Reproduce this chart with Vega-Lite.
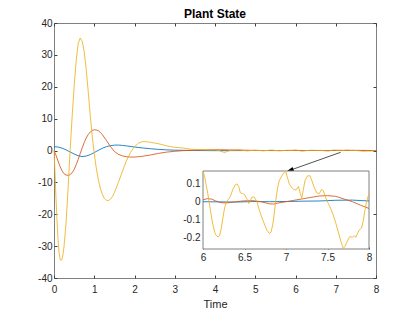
{
"$schema":"https://vega.github.io/schema/vega-lite/v6.json",
"width":322,"height":255,"autosize":"none",
"padding":{"left":54,"top":23,"right":39,"bottom":34},
"background":"white",
"title":{"text":"Plant State","fontSize":12,"fontWeight":"bold","font":"Liberation Sans","color":"#000000","offset":-2.5,"anchor":"middle"},
"config":{"view":{"stroke":"#808080","strokeWidth":1},
 "axis":{"domain":false,"grid":false,"labelFlush":false,"tickColor":"#404040","tickSize":-3,"labelFont":"Liberation Sans","labelFontSize":10,"labelColor":"#262626","titleFont":"Liberation Sans","titleFontWeight":"normal","titleFontSize":11,"titleColor":"#262626","labelPadding":5,"zindex":1}},
"datasets":{
"d":[
{"t":0,"s":"a","v":1.2},{"t":0.1,"s":"a","v":1.1},{"t":0.2,"s":"a","v":0.75},{"t":0.3,"s":"a","v":0.2},{"t":0.4,"s":"a","v":-0.45},{"t":0.5,"s":"a","v":-1.1},{"t":0.6,"s":"a","v":-1.65},{"t":0.7,"s":"a","v":-1.9},{"t":0.8,"s":"a","v":-1.75},{"t":0.9,"s":"a","v":-1.3},{"t":1.0,"s":"a","v":-0.65},{"t":1.1,"s":"a","v":0.05},{"t":1.2,"s":"a","v":0.7},{"t":1.3,"s":"a","v":1.2},{"t":1.4,"s":"a","v":1.5},{"t":1.5,"s":"a","v":1.68},{"t":1.6,"s":"a","v":1.7},{"t":1.7,"s":"a","v":1.6},{"t":1.8,"s":"a","v":1.45},{"t":2.0,"s":"a","v":1.1},{"t":2.2,"s":"a","v":0.8},{"t":2.4,"s":"a","v":0.55},{"t":2.6,"s":"a","v":0.35},{"t":2.8,"s":"a","v":0.2},{"t":3.0,"s":"a","v":0.1},{"t":3.5,"s":"a","v":0.0},{"t":4.0,"s":"a","v":-0.05},{"t":5.0,"s":"a","v":0.0},{"t":5.5,"s":"a","v":0.0},
{"t":6.0,"s":"a","v":0.0},{"t":6.2,"s":"a","v":-0.001},{"t":6.4,"s":"a","v":-0.002},{"t":6.6,"s":"a","v":0.001},{"t":6.8,"s":"a","v":0.0},{"t":7.0,"s":"a","v":0.001},{"t":7.2,"s":"a","v":0.003},{"t":7.4,"s":"a","v":0.004},{"t":7.6,"s":"a","v":0.008},{"t":7.8,"s":"a","v":0.009},{"t":8.0,"s":"a","v":0.004},
{"t":0,"s":"b","v":0},{"t":0.05,"s":"b","v":-1.5},{"t":0.1,"s":"b","v":-3.3},{"t":0.15,"s":"b","v":-5},{"t":0.2,"s":"b","v":-6.4},{"t":0.25,"s":"b","v":-7.3},{"t":0.3,"s":"b","v":-7.7},{"t":0.37,"s":"b","v":-7.8},{"t":0.45,"s":"b","v":-7},{"t":0.5,"s":"b","v":-6},{"t":0.55,"s":"b","v":-4.5},{"t":0.6,"s":"b","v":-2.8},{"t":0.65,"s":"b","v":-1},{"t":0.7,"s":"b","v":0.8},{"t":0.75,"s":"b","v":2.5},{"t":0.8,"s":"b","v":3.9},{"t":0.85,"s":"b","v":5},{"t":0.9,"s":"b","v":5.8},{"t":0.95,"s":"b","v":6.3},{"t":1.0,"s":"b","v":6.5},{"t":1.05,"s":"b","v":6.45},{"t":1.1,"s":"b","v":6.2},{"t":1.15,"s":"b","v":5.7},{"t":1.2,"s":"b","v":5},{"t":1.3,"s":"b","v":3.2},{"t":1.4,"s":"b","v":1.3},{"t":1.5,"s":"b","v":-0.3},{"t":1.6,"s":"b","v":-1.2},{"t":1.7,"s":"b","v":-1.7},{"t":1.8,"s":"b","v":-1.95},{"t":1.9,"s":"b","v":-2.05},{"t":2.0,"s":"b","v":-2.05},{"t":2.1,"s":"b","v":-1.95},{"t":2.2,"s":"b","v":-1.8},{"t":2.4,"s":"b","v":-1.4},{"t":2.6,"s":"b","v":-0.9},{"t":2.8,"s":"b","v":-0.5},{"t":3.0,"s":"b","v":-0.25},{"t":3.2,"s":"b","v":-0.05},{"t":3.5,"s":"b","v":0.1},{"t":4.0,"s":"b","v":0.25},{"t":4.5,"s":"b","v":0.15},{"t":5.0,"s":"b","v":0.02},{"t":5.5,"s":"b","v":-0.03},
{"t":6.0,"s":"b","v":0.01},{"t":6.05,"s":"b","v":0.017},{"t":6.1,"s":"b","v":0.015},{"t":6.15,"s":"b","v":0.005},{"t":6.2,"s":"b","v":-0.003},{"t":6.25,"s":"b","v":-0.007},{"t":6.3,"s":"b","v":-0.006},{"t":6.4,"s":"b","v":0.0},{"t":6.5,"s":"b","v":0.005},{"t":6.6,"s":"b","v":0.006},{"t":6.7,"s":"b","v":0.0},{"t":6.8,"s":"b","v":-0.012},{"t":6.85,"s":"b","v":-0.013},{"t":6.9,"s":"b","v":-0.008},{"t":7.0,"s":"b","v":0.0},{"t":7.1,"s":"b","v":0.008},{"t":7.2,"s":"b","v":0.016},{"t":7.3,"s":"b","v":0.024},{"t":7.4,"s":"b","v":0.032},{"t":7.5,"s":"b","v":0.034},{"t":7.6,"s":"b","v":0.03},{"t":7.7,"s":"b","v":0.015},{"t":7.8,"s":"b","v":0.0},{"t":7.9,"s":"b","v":-0.02},{"t":8.0,"s":"b","v":-0.038},
{"t":0,"s":"c","v":0},{"t":0.025,"s":"c","v":-7},{"t":0.05,"s":"c","v":-15},{"t":0.075,"s":"c","v":-22},{"t":0.1,"s":"c","v":-28},{"t":0.125,"s":"c","v":-32},{"t":0.15,"s":"c","v":-34},{"t":0.175,"s":"c","v":-34.5},{"t":0.2,"s":"c","v":-34},{"t":0.225,"s":"c","v":-32.5},{"t":0.25,"s":"c","v":-30},{"t":0.3,"s":"c","v":-22.5},{"t":0.35,"s":"c","v":-12},{"t":0.4,"s":"c","v":0},{"t":0.45,"s":"c","v":10.5},{"t":0.5,"s":"c","v":20},{"t":0.55,"s":"c","v":28},{"t":0.6,"s":"c","v":33.5},{"t":0.65,"s":"c","v":35.3},{"t":0.7,"s":"c","v":34.3},{"t":0.75,"s":"c","v":31},{"t":0.8,"s":"c","v":25.5},{"t":0.85,"s":"c","v":18.5},{"t":0.9,"s":"c","v":11},{"t":0.95,"s":"c","v":4.5},{"t":1.0,"s":"c","v":-1},{"t":1.05,"s":"c","v":-5.5},{"t":1.1,"s":"c","v":-9},{"t":1.15,"s":"c","v":-11.8},{"t":1.2,"s":"c","v":-13.7},{"t":1.25,"s":"c","v":-15},{"t":1.3,"s":"c","v":-15.6},{"t":1.35,"s":"c","v":-15.7},{"t":1.4,"s":"c","v":-15.3},{"t":1.45,"s":"c","v":-14.5},{"t":1.5,"s":"c","v":-13.2},{"t":1.6,"s":"c","v":-10},{"t":1.7,"s":"c","v":-6.5},{"t":1.8,"s":"c","v":-3.2},{"t":1.9,"s":"c","v":-0.6},{"t":2.0,"s":"c","v":1.2},{"t":2.1,"s":"c","v":2.3},{"t":2.2,"s":"c","v":2.8},{"t":2.3,"s":"c","v":2.75},{"t":2.4,"s":"c","v":2.55},{"t":2.5,"s":"c","v":2.35},{"t":2.6,"s":"c","v":2.1},{"t":2.7,"s":"c","v":1.8},{"t":2.8,"s":"c","v":1.45},{"t":2.9,"s":"c","v":1.2},{"t":3.0,"s":"c","v":1.0},{"t":3.1,"s":"c","v":0.9},{"t":3.2,"s":"c","v":0.8},{"t":3.3,"s":"c","v":0.6},{"t":3.4,"s":"c","v":0.4},{"t":3.6,"s":"c","v":0.3},{"t":3.8,"s":"c","v":0.2},{"t":4.0,"s":"c","v":0.2},{"t":4.1,"s":"c","v":0.0},{"t":4.2,"s":"c","v":-0.5},{"t":4.25,"s":"c","v":-0.6},{"t":4.3,"s":"c","v":-0.3},{"t":4.4,"s":"c","v":0.1},{"t":4.6,"s":"c","v":0.2},{"t":4.8,"s":"c","v":-0.1},{"t":5.0,"s":"c","v":0.1},{"t":5.2,"s":"c","v":-0.1},{"t":5.4,"s":"c","v":0.15},{"t":5.6,"s":"c","v":-0.1},{"t":5.8,"s":"c","v":0.1},{"t":5.9,"s":"c","v":0.05},
{"t":6.0,"s":"c","v":0.17},{"t":6.02,"s":"c","v":0.14},{"t":6.04,"s":"c","v":0.09},{"t":6.06,"s":"c","v":0.04},{"t":6.08,"s":"c","v":-0.02},{"t":6.1,"s":"c","v":-0.08},{"t":6.12,"s":"c","v":-0.13},{"t":6.14,"s":"c","v":-0.17},{"t":6.16,"s":"c","v":-0.19},{"t":6.18,"s":"c","v":-0.197},{"t":6.2,"s":"c","v":-0.19},{"t":6.22,"s":"c","v":-0.15},{"t":6.24,"s":"c","v":-0.09},{"t":6.26,"s":"c","v":-0.035},{"t":6.28,"s":"c","v":-0.005},{"t":6.3,"s":"c","v":0.01},{"t":6.33,"s":"c","v":0.03},{"t":6.36,"s":"c","v":0.07},{"t":6.39,"s":"c","v":0.095},{"t":6.41,"s":"c","v":0.1},{"t":6.43,"s":"c","v":0.085},{"t":6.45,"s":"c","v":0.05},{"t":6.48,"s":"c","v":0.045},{"t":6.5,"s":"c","v":0.04},{"t":6.53,"s":"c","v":0.015},{"t":6.55,"s":"c","v":-0.01},{"t":6.57,"s":"c","v":0.005},{"t":6.59,"s":"c","v":0.026},{"t":6.62,"s":"c","v":0.025},{"t":6.65,"s":"c","v":0.0},{"t":6.68,"s":"c","v":-0.05},{"t":6.71,"s":"c","v":-0.09},{"t":6.74,"s":"c","v":-0.125},{"t":6.77,"s":"c","v":-0.16},{"t":6.8,"s":"c","v":-0.178},{"t":6.82,"s":"c","v":-0.17},{"t":6.84,"s":"c","v":-0.13},{"t":6.86,"s":"c","v":-0.06},{"t":6.88,"s":"c","v":0.02},{"t":6.9,"s":"c","v":0.08},{"t":6.92,"s":"c","v":0.12},{"t":6.95,"s":"c","v":0.145},{"t":6.97,"s":"c","v":0.16},{"t":6.99,"s":"c","v":0.168},{"t":7.0,"s":"c","v":0.165},{"t":7.02,"s":"c","v":0.13},{"t":7.04,"s":"c","v":0.1},{"t":7.06,"s":"c","v":0.085},{"t":7.09,"s":"c","v":0.07},{"t":7.12,"s":"c","v":0.065},{"t":7.15,"s":"c","v":0.085},{"t":7.17,"s":"c","v":0.05},{"t":7.19,"s":"c","v":0.02},{"t":7.21,"s":"c","v":0.07},{"t":7.23,"s":"c","v":0.12},{"t":7.26,"s":"c","v":0.145},{"t":7.29,"s":"c","v":0.145},{"t":7.31,"s":"c","v":0.12},{"t":7.34,"s":"c","v":0.08},{"t":7.37,"s":"c","v":0.05},{"t":7.4,"s":"c","v":0.045},{"t":7.43,"s":"c","v":0.07},{"t":7.45,"s":"c","v":0.06},{"t":7.48,"s":"c","v":0.02},{"t":7.51,"s":"c","v":-0.01},{"t":7.54,"s":"c","v":-0.04},{"t":7.57,"s":"c","v":-0.075},{"t":7.6,"s":"c","v":-0.12},{"t":7.63,"s":"c","v":-0.17},{"t":7.66,"s":"c","v":-0.22},{"t":7.69,"s":"c","v":-0.262},{"t":7.71,"s":"c","v":-0.25},{"t":7.73,"s":"c","v":-0.23},{"t":7.75,"s":"c","v":-0.21},{"t":7.77,"s":"c","v":-0.195},{"t":7.8,"s":"c","v":-0.2},{"t":7.82,"s":"c","v":-0.19},{"t":7.84,"s":"c","v":-0.2},{"t":7.86,"s":"c","v":-0.18},{"t":7.88,"s":"c","v":-0.16},{"t":7.91,"s":"c","v":-0.148},{"t":7.93,"s":"c","v":-0.11},{"t":7.95,"s":"c","v":-0.05},{"t":7.97,"s":"c","v":0.0},{"t":7.99,"s":"c","v":0.03},{"t":8.0,"s":"c","v":0.045}
],
"arrow":[{"x1":7.123,"y1":-0.56,"x2":5.856,"y2":-6.24}],
"box":[{"a":6,"b":8,"c":-0.265,"e":0.172}]
},
"resolve":{"scale":{"x":"independent","y":"independent"},"axis":{"x":"independent","y":"independent"}},
"layer":[
 {"data":{"name":"d"},"mark":{"type":"line","strokeWidth":1,"opacity":0.85},
  "encoding":{
   "x":{"field":"t","type":"quantitative","scale":{"domain":[0,8],"nice":false,"zero":false},"axis":{"orient":"bottom","values":[0,1,2,3,4,5,6,7,8],"title":"Time","labelExpr":"''+datum.value","labelPadding":9,"titlePadding":4}},
   "y":{"field":"v","type":"quantitative","scale":{"domain":[-40,40],"nice":false,"zero":false},"axis":{"orient":"left","values":[-40,-30,-20,-10,0,10,20,30,40],"title":null,"labelExpr":"''+datum.value"}},
   "color":{"field":"s","type":"nominal","scale":{"domain":["a","b","c"],"range":["#0072BD","#D95319","#EDB120"]},"legend":null}}},
 {"data":{"name":"arrow"},"layer":[
  {"mark":{"type":"rule","color":"#262626","strokeWidth":0.8},
   "encoding":{
    "x":{"field":"x1","type":"quantitative","scale":{"domain":[0,8],"nice":false,"zero":false},"axis":{"orient":"top","values":[0,1,2,3,4,5,6,7,8],"labels":false,"title":null}},
    "y":{"field":"y1","type":"quantitative","scale":{"domain":[-40,40],"nice":false,"zero":false},"axis":{"orient":"right","values":[-40,-30,-20,-10,0,10,20,30,40],"labels":false,"title":null}},
    "x2":{"field":"x2"},"y2":{"field":"y2"}}},
  {"mark":{"type":"point","shape":"M0,-1L0.6,1L-0.6,1Z","filled":true,"color":"#000000","opacity":1,"size":60,"angle":250.5},
   "encoding":{"x":{"field":"x2","type":"quantitative"},"y":{"field":"y2","type":"quantitative"}}}
 ]},
 {"layer":[
  {"data":{"name":"box"},"mark":{"type":"rect","fill":"white","stroke":"#808080","strokeWidth":1},
   "encoding":{
    "x":{"field":"a","type":"quantitative","scale":{"domain":[6,8],"range":[149,315],"nice":false,"zero":false},"axis":{"orient":"bottom","offset":-29,"values":[6,6.5,7,7.5,8],"title":null,"labelExpr":"''+datum.value","tickSize":-2}},
    "x2":{"field":"b"},
    "y":{"field":"c","type":"quantitative","scale":{"domain":[-0.265,0.172],"range":[226,148],"nice":false,"zero":false},"axis":{"orient":"left","offset":-149,"values":[-0.2,-0.1,0,0.1],"title":null,"labelExpr":"''+datum.value","tickSize":-2}},
    "y2":{"field":"e"}}},
  {"data":{"name":"d"},"transform":[{"filter":"datum.t >= 6"}],"mark":{"type":"line","strokeWidth":1,"opacity":0.85},
   "encoding":{"x":{"field":"t","type":"quantitative"},"y":{"field":"v","type":"quantitative"},"color":{"field":"s","type":"nominal","legend":null}}}
 ]}
]
}
